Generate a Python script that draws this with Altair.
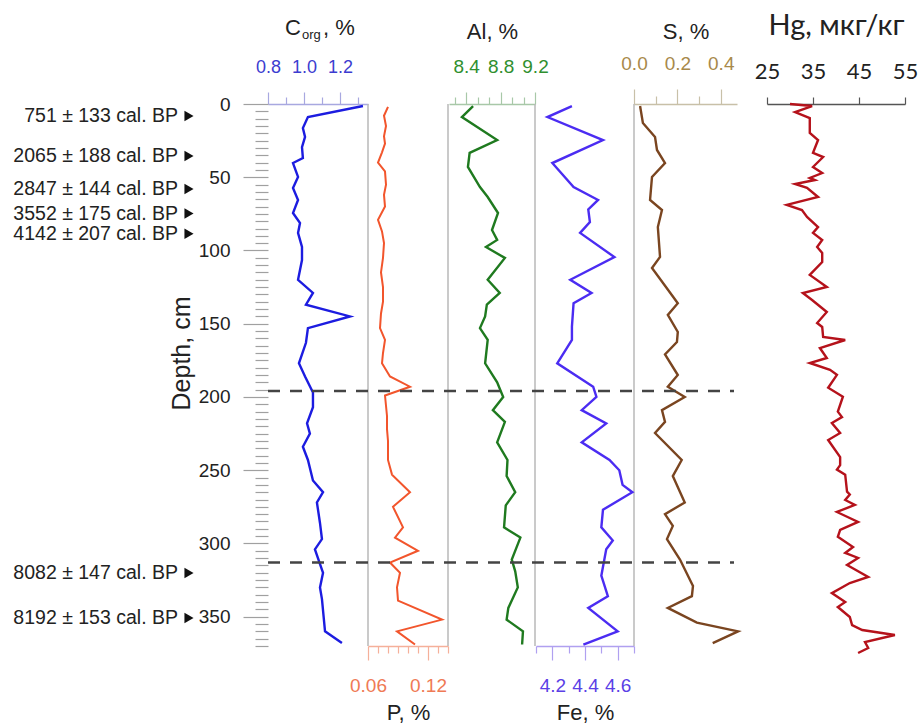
import json
import altair as alt
import pandas as pd

# ---------------- data (depth in cm) ----------------
corg_depth = [1.4, 8.9, 16.4, 22.5, 29.4, 36.9, 40.3, 49.8, 57.3, 65.5, 74.4, 81.2, 88.0, 97.6,
              106.5, 120, 129, 137, 145, 153, 163, 177, 186, 197, 207, 218, 225, 234, 243, 257,
              265, 272, 286, 297, 304, 320, 330, 338, 360, 368]
corg_val = [1.328, 1.022, 0.994, 1.006, 0.989, 0.994, 0.939, 0.967, 0.939, 0.967, 0.939, 0.978,
            0.967, 0.989, 0.989, 0.967, 1.05, 1.011, 1.256, 1.022, 1.011, 0.972, 1.006, 1.05, 1.05,
            1.017, 1.033, 0.994, 1.022, 1.05, 1.106, 1.072, 1.089, 1.1, 1.061, 1.106, 1.089, 1.1,
            1.117, 1.211]

p_depth = [2, 8, 15, 22, 27, 33, 40, 46, 55, 62, 70, 79, 87, 95, 105, 115, 125, 135, 143, 153,
           161, 170, 177, 186, 193, 199, 206, 213, 222, 230, 243, 253, 265, 275, 289, 296, 305,
           313, 320, 330, 339, 352, 360, 369]
p_val = [0.080, 0.076, 0.078, 0.076, 0.077, 0.074, 0.070, 0.077, 0.078, 0.076, 0.077, 0.070,
         0.074, 0.076, 0.075, 0.073, 0.075, 0.075, 0.073, 0.072, 0.077, 0.075, 0.074, 0.082,
         0.102, 0.077, 0.078, 0.079, 0.079, 0.080, 0.080, 0.084, 0.102, 0.085, 0.095, 0.087,
         0.110, 0.082, 0.092, 0.089, 0.090, 0.134, 0.089, 0.107]

al_depth = [1.4, 8.9, 24.6, 33.4, 43, 56.7, 63.5, 74.4, 86, 92.8, 97.6, 105.1, 120, 129, 137,
            145, 153, 161, 177, 190, 200, 209, 217, 231, 243, 254, 265, 274, 289, 296, 311, 319,
            330, 344, 352, 360, 369]
al_val = [8.48, 8.35, 8.76, 8.44, 8.42, 8.56, 8.65, 8.77, 8.70, 8.76, 8.63, 8.85, 8.65, 8.79,
          8.64, 8.62, 8.56, 8.65, 8.62, 8.76, 8.83, 8.71, 8.85, 8.76, 8.88, 8.87, 8.97, 8.86,
          8.84, 9.03, 8.93, 8.97, 9.00, 8.89, 8.87, 9.06, 9.05]

fe_depth = [1.4, 8.9, 24.6, 40.3, 56.7, 65.5, 72, 80.6, 88, 104.5, 120, 129, 136, 152, 161, 177,
            193, 200, 209, 218, 231, 243, 250, 260, 265, 277, 289, 298, 304, 322, 336, 344, 360, 369]
fe_val = [4.32, 4.17, 4.51, 4.20, 4.33, 4.48, 4.42, 4.43, 4.37, 4.58, 4.31, 4.44, 4.33, 4.32,
          4.32, 4.23, 4.45, 4.47, 4.38, 4.53, 4.38, 4.55, 4.61, 4.63, 4.69, 4.51, 4.50, 4.57,
          4.53, 4.50, 4.54, 4.42, 4.60, 4.39]

s_depth = [1.4, 13, 22.5, 31.4, 40.3, 49.8, 65.5, 72.4, 84, 104.4, 112, 122, 136, 144, 155.6,
           162.5, 171, 185, 193, 200, 209, 217, 224.6, 243, 254, 272, 280, 288, 297, 311, 329,
           336, 344, 354, 360, 368]
s_val = [0.028, 0.041, 0.097, 0.106, 0.143, 0.083, 0.074, 0.129, 0.110, 0.120, 0.083, 0.133,
         0.202, 0.156, 0.202, 0.198, 0.143, 0.202, 0.156, 0.234, 0.129, 0.143, 0.097, 0.22,
         0.179, 0.234, 0.143, 0.179, 0.152, 0.212, 0.272, 0.267, 0.156, 0.290, 0.48, 0.363]

hg_depth = [0, 1.4, 5.5, 9.6, 19.8, 24.6, 33.4, 36.2, 43.0, 47.1, 50.5, 51.9, 54.6, 57.3, 63.5,
            68.9, 72.4, 77.1, 84.0, 88.0, 92.8, 97.6, 101.7, 107.9, 116.7, 124.9, 129.0, 133.8,
            142.0, 149.5, 152.2, 159.0, 161.1, 166.6, 173.4, 176.8, 181.5, 184.9, 193.7, 199.8,
            210.0, 213.7, 217.8, 224.6, 229.4, 241.0, 246.5, 249.6, 253.0, 264.6, 266.6, 270.3,
            273.7, 278.5, 285.3, 290.8, 295.5, 302.4, 306.5, 309.9, 314.7, 322.9, 327.0, 333.9,
            340.0, 343.4, 350.2, 355.7, 359.1, 362.5, 367.3, 371.4, 374.8]
hg_val = [30.0, 34.8, 31.1, 34.3, 34.3, 36.1, 35.0, 37.2, 35.0, 37.0, 34.3, 35.4, 31.1, 33.7,
          36.1, 29.3, 32.6, 33.7, 36.1, 35.0, 37.0, 35.9, 37.0, 37.0, 34.3, 38.0, 32.8, 34.8,
          38.0, 35.9, 37.0, 37.2, 42.0, 36.5, 38.0, 34.3, 38.7, 40.2, 38.3, 41.5, 40.4, 41.3,
          39.1, 40.9, 38.3, 40.9, 40.9, 40.2, 42.0, 42.4, 43.0, 42.0, 44.1, 40.2, 44.8, 40.9,
          40.4, 43.7, 42.0, 44.8, 42.4, 47.0, 43.0, 39.1, 42.0, 40.4, 43.0, 43.5, 45.7, 52.8,
          46.3, 47.0, 44.8]

date_labels = ["751 ± 133 cal. BP", "2065 ± 188 cal. BP", "2847 ± 144 cal. BP",
               "3552 ± 175 cal. BP", "4142 ± 207 cal. BP", "8082 ± 147 cal. BP",
               "8192 ± 153 cal. BP"]
date_depth = [8.2, 35.5, 58.0, 74.8, 88.6, 320.2, 350.9]

boundary_depth = [196, 313]

# tick values of each axis
depth_ticks = list(range(0, 371, 5))
corg_ticks = [0.8, 0.9, 1.0, 1.1, 1.2, 1.3]
corg_major = [0.8, 1.0, 1.2]
p_ticks = [0.06, 0.07, 0.08, 0.09, 0.1, 0.11, 0.12, 0.13, 0.14]
p_major = [0.06, 0.12]
al_ticks = [8.2667, 8.4, 8.5333, 8.6667, 8.8, 8.9333, 9.0667, 9.2]
al_major = [8.4, 8.8, 9.2]
fe_ticks = [4.1, 4.2, 4.3, 4.4, 4.5, 4.6, 4.7]
fe_major = [4.2, 4.4, 4.6]
s_ticks = [0, 0.1, 0.2, 0.3, 0.4]
s_major = [0, 0.2, 0.4]
hg_ticks = [25, 35, 45, 55]

# ---------------- styling ----------------
FONT = "Liberation Sans"
HG_FONT = "Lato"
W, H = 655, 542

YSCALE = alt.Scale(domain=[0, 370], reverse=True, nice=False, zero=False)


def ycode(axis=None):
    return alt.Y("depth:Q", scale=YSCALE, axis=axis)


def make_axis(orient, values, majors, fmt, label_color, line_color, title=None,
              label_size=19, label_pad=16, big=12, small=7, title_pad=8,
              font=FONT, title_font=FONT, title_size=22):
    test = "indexof(%s, datum.value) >= 0" % json.dumps(majors)
    kw = dict(orient=orient, values=values, format=fmt,
              labelExpr="%s ? datum.label : ''" % test,
              tickSize={"condition": {"test": test, "value": big}, "value": small},
              tickColor=line_color, domainColor=line_color, tickWidth=1.2, domainWidth=1.5,
              labelColor=label_color, labelFont=font, labelFontSize=label_size,
              labelPadding=label_pad, labelFlush=False, labelOverlap=False, grid=False)
    if title:
        kw.update(title=title, titleFont=title_font, titleFontSize=title_size,
                  titleFontWeight="normal", titleColor="#222222", titlePadding=title_pad)
    else:
        kw["title"] = None
    return alt.Axis(**kw)


def series(depths, vals, color, width, dom, rng, axis, yaxis=None):
    df = pd.DataFrame({"depth": depths, "v": vals})
    return alt.Chart(df).mark_line(color=color, strokeWidth=width).encode(
        x=alt.X("v:Q", scale=alt.Scale(domain=dom, range=rng, nice=False, zero=False),
                axis=axis),
        y=ycode(yaxis),
        order="depth:Q",
    )


depth_axis = alt.Axis(
    orient="left", values=depth_ticks,
    labelExpr="datum.value % 50 === 0 ? datum.label : ''",
    tickSize={"condition": {"test": "datum.value % 50 === 0", "value": 25}, "value": 13},
    tickColor="#a0a0a0", tickWidth=1.2, domain=False,
    labelColor="#222222", labelFont=FONT, labelFontSize=19, labelPadding=13,
    labelOverlap=False, grid=False,
    title="Depth, cm", titleFont=FONT, titleFontSize=25, titleFontWeight="normal",
    titleColor="#222222", titleX=-87, titleY=249, titleAngle=270,
    titleAlign="center", titleBaseline="middle",
)

one = pd.DataFrame({"k": [0]})


def vline(px):
    return alt.Chart(one).mark_rule(color="#b8b8b8", strokeWidth=1.5).encode(
        x=alt.value(px), y=alt.value(0), y2=alt.value(H))


def label(txt, px, py, size, align="left", font=FONT):
    return alt.Chart(one).mark_text(text=txt, align=align, baseline="alphabetic", font=font,
                                    fontSize=size, color="#222222").encode(
        x=alt.value(px), y=alt.value(py))


layers = [vline(100), vline(180), vline(267), vline(366)]

layers.append(series(corg_depth, corg_val, "#1c1ce0", 2.4, [0.8, 1.356], [0, 100],
                     make_axis("top", corg_ticks, corg_major, ".1f", "#3c3cd0", "#a8a8e0",
                               label_size=18), yaxis=depth_axis))
layers.append(series(p_depth, p_val, "#f2552c", 2.0, [0.06, 0.14], [100, 180],
                     make_axis("bottom", p_ticks, p_major, ".2f", "#ef7a55", "#f5b09a",
                               title="P, %", big=14, title_pad=7)))
layers.append(series(al_depth, al_val, "#1f7a1f", 2.4, [8.2, 9.2], [181, 267],
                     make_axis("top", al_ticks, al_major, ".1f", "#2f8f2f", "#a8c8a8",
                               title="Al, %", title_pad=14)))
layers.append(series(fe_depth, fe_val, "#4b2cf2", 2.4, [4.1, 4.7], [268, 366],
                     make_axis("bottom", fe_ticks, fe_major, ".1f", "#5b3fe6", "#b0a0f0",
                               title="Fe, %", big=14, title_pad=7)))
layers.append(series(s_depth, s_val, "#7a4520", 2.4, [0, 0.475], [366, 469],
                     make_axis("top", s_ticks, s_major, ".1f", "#a8894a", "#c8c0a8",
                               title="S, %", big=15, small=8, title_pad=11)))
layers.append(series(hg_depth, hg_val, "#b5121b", 2.4, [25, 55], [499, 637],
                     make_axis("top", hg_ticks, hg_ticks, "d", "#222222", "#555555",
                               title="Hg, мкг/кг", label_size=22, label_pad=14, big=7,
                               small=7, title_pad=20, font=HG_FONT, title_font=HG_FONT,
                               title_size=29)))

# boundaries
layers.append(alt.Chart(pd.DataFrame({"depth": boundary_depth})).mark_rule(
    color="#444444", strokeWidth=2.5, strokeDash=[12, 10]).encode(
    y=ycode(), x=alt.value(0), x2=alt.value(466)))

# radiocarbon dates
dates_df = pd.DataFrame({"depth": date_depth, "label": date_labels})
layers.append(alt.Chart(dates_df).mark_text(align="right", baseline="middle", font=FONT,
                                            fontSize=19.5, color="#222222").encode(
    y=ycode(), x=alt.value(-90), text="label:N"))
layers.append(alt.Chart(dates_df).mark_point(shape="triangle-right", filled=True, size=110,
                                             color="#111111", opacity=1).encode(
    y=ycode(), x=alt.value(-79)))

# C_org title with subscript
layers.append(label("C", 17, -69, 22))
layers.append(label("org", 34, -65, 13))
layers.append(label(", %", 55, -69, 22))

chart = alt.layer(*layers).resolve_scale(x="independent").resolve_axis(
    y="independent").properties(
    width=W, height=H,
    padding={"left": 268, "top": 104, "right": 0, "bottom": 80},
    autosize=alt.AutoSizeParams(type="none"),
    background="white",
).configure_view(stroke=None)

chart.save("out.html", embed_options={"renderer": "svg", "actions": False})
